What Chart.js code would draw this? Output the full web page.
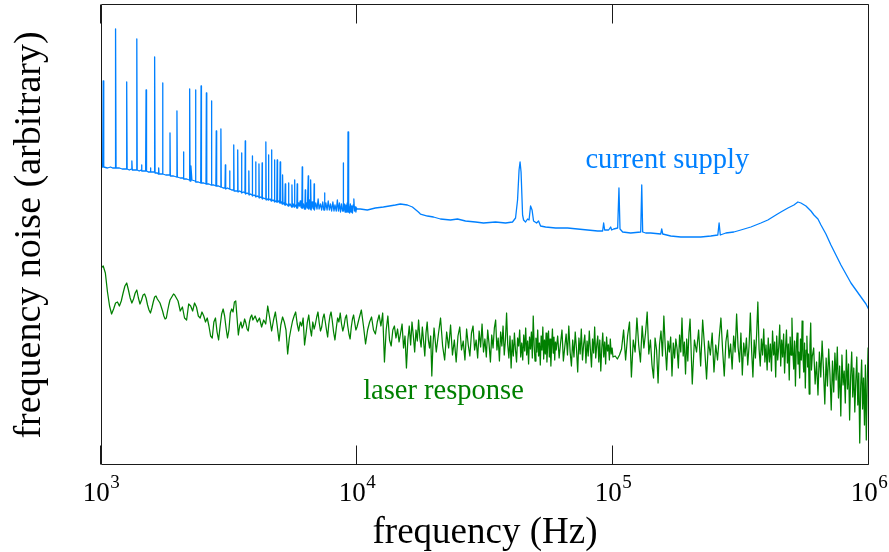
<!DOCTYPE html>
<html>
<head>
<meta charset="utf-8">
<script src="https://cdn.jsdelivr.net/npm/chart.js@4.4.1/dist/chart.umd.min.js"></script>
<style>
html,body{margin:0;padding:0;background:#ffffff;}
#wrap{width:889px;height:552px;position:relative;}
</style>
</head>
<body>
<div id="wrap"><canvas id="c"></canvas></div>
<script>
// ---------- data ----------
const tickValues = [1e3, 1e4, 1e5, 1e6];
const xTitle = 'frequency (Hz)';
const yTitle = 'frequency noise (arbitrary)';
const supplyName = 'current supply';
const laserName = 'laser response';
const supplyLabelAt = [78000, 292];
const laserLabelAt = [10570, 61.5];

// current supply: [frequency Hz, level]
const supplyPoints = [
[1000,293],[1015,293],[1020,379],[1025,293],[1060,292],[1090,293],[1110,292],[1135,292],[1140,431],[1145,292],
[1180,292],[1210,291],[1255,291],[1260,378],[1265,291],[1290,290],[1315,291],[1320,299],[1325,290],[1350,290],
[1375,290],[1380,421],[1385,290],[1410,289],[1435,290],[1440,295],[1445,289],[1470,289],[1494,289],[1500,370],
[1506,289],[1530,288],[1554,288],[1560,292],[1566,288],[1590,288],[1614,288],[1620,403],[1626,287],[1660,287],
[1675,286],[1680,292],[1685,286],[1734,286],[1740,377],[1746,286],[1790,285],[1854,285],[1860,327],[1866,284],
[1920,284],[1973,283],[1980,349],[1987,283],[2040,282],[2093,282],[2100,308],[2107,281],[2160,281],[2212,280],
[2220,371],[2228,279],[2245,294],[2265,280],[2332,279],[2340,370],[2348,278],[2400,278],[2452,277],[2460,374],
[2468,277],[2520,277],[2571,276],[2580,367],[2589,276],[2640,276],[2690,275],[2700,359],[2710,275],[2760,275],
[2810,274],[2820,329],[2830,274],[2880,274],[2930,273],[2940,331],[2950,273],[3000,272],[3050,272],[3060,295],
[3070,271],[3120,272],[3170,271],[3180,289],[3190,271],[3240,270],[3290,270],[3300,315],[3310,269],[3360,269],
[3410,269],[3420,310],[3430,268],[3480,269],[3530,268],[3540,307],[3550,267],[3600,268],[3650,267],[3660,319],
[3670,266],[3720,267],[3770,266],[3780,289],[3790,265],[3840,266],[3890,265],[3900,304],[3910,264],[3960,265],
[4010,264],[4020,298],[4030,263],[4080,264],[4130,263],[4140,296],[4150,262],[4200,263],[4250,262],[4260,297],
[4270,261],[4320,262],[4390,261],[4405,318],[4420,260],[4470,261],[4495,260],[4510,305],[4525,260],[4580,261],
[4620,259],[4635,310],[4650,259],[4700,260],[4745,259],[4760,300],[4775,258],[4820,259],[4860,258],[4878,300],
[4895,258],[4950,259],[4990,257],[5010,298],[5030,257],[5070,258],[5100,256],[5120,285],[5140,256],[5190,257],
[5225,255],[5245,276],[5265,255],[5320,256],[5380,254],[5400,277],[5420,254],[5480,256],[5550,253],[5570,275],
[5590,253],[5640,256],[5680,253],[5700,280],[5720,253],[5780,255],[5820,252],[5840,276],[5860,252],[5920,257],
[5960,254],[6000,259],[6040,253],[6090,252],[6110,293],[6130,252],[6180,256],[6230,251],[6260,252],[6280,270],
[6300,251],[6350,257],[6400,252],[6430,252],[6450,284],[6470,251],[6520,260],[6560,251],[6590,280],[6620,250],
[6680,258],[6730,252],[6780,251],[6800,276],[6820,250],[6900,257],[6980,251],[7050,261],[7110,251],[7200,256],
[7280,250],[7350,258],[7420,250],[7450,250],[7470,267],[7490,250],[7560,257],[7640,250],[7720,259],[7800,250],
[7880,256],[7960,249],[8050,258],[8130,249],[8200,255],[8300,249],[8380,260],[8460,249],[8540,257],[8620,248],
[8700,256],[8780,249],[8820,249],[8840,297],[8860,249],[8920,256],[8980,248],[9040,255],[9100,248],[9160,257],
[9200,248],[9225,328],[9250,248],[9300,255],[9360,247],[9420,256],[9480,248],[9540,254],[9600,247],[9660,255],
[9720,261],[9780,249],[9840,253],[9900,248],[9960,252],[10000,251],
[10300,251],[10970,250],[11790,252],[12680,253],[14120,255],[14770,256],[15730,255],[16460,253],[17370,248],[17690,246],
[18840,244],[19890,243],[21180,241],[23180,240],[24690,241],[26530,239],[29030,238],[31200,237],[34760,238],[38040,237],
[40510,238],[41620,242],[42380,260],[42960,290],[43350,298],[43740,288],[44340,245],[44740,240],[45550,238],[46380,241],
[47000,240],[47640,254],[48290,250],[48940,239],[50280,237],[51190,239],[52120,234],[54520,233],[59670,232],[66480,232],
[72730,231],[79580,230],[87100,229],[91100,229],[91930,237],[92760,230],[96170,230],[97920,233],[98800,230],[100600,231],
[104300,232],[105500,272],[106500,231],[109100,228],[117200,227],[128300,228],[129500,275],[130600,228],[134200,227],[140400,227],
[153600,226],[155000,231],[156400,226],[168100,224],[183900,223],[201200,223],[220200,223],[241000,224],[256700,225],[259700,237],
[262500,225],[275900,227],[296500,228],[315700,230],[345500,233],[378100,237],[402600,240],[432800,245],[452700,248],[482200,252],
[508900,255],[527600,258],[542100,257],[567100,254],[593200,249],[609500,245],[631800,241],[649200,235],[678800,226],[710100,215],
[742800,205],[776900,195],[812800,186],[850200,177],[889400,170],[930400,163],[973200,156],[1000000,150]
];

// laser response: frequencies (Hz) and levels, segment by segment
const laserFreqHz = [
1000,1020,1040,1060,1080,1100,1120,1140,1160,1180,1200,1220,1240,1260,1280,1300,1320,1340,1360,1380,1400,1420,1440,1460,1480,1500,1520,1540,1560,1580,1600,1620,1640,1660,1680,1700,1720,1740,1760,1780,1800,1820,1840,1860,1880,1900,1920,1940,1960,1980,2000,
2040,2080,2120,2160,2200,2240,2280,2320,2360,2400,2440,2480,2520,2560,2600,2640,2680,2720,2760,2800,2840,2880,2920,2960,3000,3040,3080,3120,3160,3200,3240,3280,3320,3360,3400,3440,3480,3520,3560,3600,3640,3680,3720,3760,3800,3840,3880,3920,3960,4000,
4080,4160,4240,4320,4400,4480,4560,4640,4720,4800,4880,4960,5040,5120,5200,5280,5360,5440,5520,5600,5680,5760,5840,5920,6000,6080,6160,6240,6320,6400,6480,6560,6640,6720,6800,6880,6960,7040,7120,7200,7280,7360,7440,7520,7600,7680,7760,7840,7920,8000,
8100,8200,8300,8400,8500,8600,8700,8800,8900,9000,9100,9200,9300,9400,9500,9600,9700,9800,9900,10000,
10200,10400,10600,10800,11000,11200,11400,11600,11800,12000,12200,12400,12600,12800,13000,13200,13400,13600,13800,14000,14200,14400,14600,14800,15000,15200,15400,15600,15800,16000,16200,16400,16600,16800,17000,17200,17400,17600,17800,18000,18200,18400,18600,18800,19000,19200,19400,19600,19800,20000,
20400,20800,21200,21600,22000,22400,22800,23200,23600,24000,24400,24800,25200,25600,26000,26400,26800,27200,27600,28000,28400,28800,29200,29600,30000,30400,30800,31200,31600,32000,32400,32800,33200,33600,34000,34400,34800,35200,35600,36000,36400,36800,37200,37600,38000,38400,38800,39200,39600,40000,
40400,40800,41200,41600,42000,42400,42800,43200,43600,44000,44400,44800,45200,45600,46000,46400,46800,47200,47600,48000,48400,48800,49200,49600,50000,50400,50800,51200,51600,52000,52400,52800,53200,53600,54000,54400,54800,55200,55600,56000,56400,56800,57200,57600,58000,58400,58800,59200,59600,60000,
60800,61600,62400,63200,64000,64800,65600,66400,67200,68000,68800,69600,70400,71200,72000,72800,73600,74400,75200,76000,76800,77600,78400,79200,80000,80800,81600,82400,83200,84000,84800,85600,86400,87200,88000,88800,89600,90400,91200,92000,92800,93600,94400,95200,96000,96800,97600,98400,99200,100000,
102000,104000,106000,108000,110000,112000,114000,116000,118000,120000,122000,124000,126000,128000,130000,132000,134000,136000,138000,140000,142000,144000,146000,148000,150000,152000,154000,156000,158000,160000,162000,164000,166000,168000,170000,172000,174000,176000,178000,180000,182000,184000,186000,188000,190000,192000,194000,196000,198000,200000,
204000,208000,212000,216000,220000,224000,228000,232000,236000,240000,244000,248000,252000,256000,260000,264000,268000,272000,276000,280000,284000,288000,292000,296000,300000,304000,308000,312000,316000,320000,324000,328000,332000,336000,340000,344000,348000,352000,356000,360000,364000,368000,372000,376000,380000,384000,388000,392000,396000,400000,
404000,408000,412000,416000,420000,424000,428000,432000,436000,440000,444000,448000,452000,456000,460000,464000,468000,472000,476000,480000,484000,488000,492000,496000,500000,504000,508000,512000,516000,520000,524000,528000,532000,536000,540000,544000,548000,552000,556000,560000,564000,568000,572000,576000,580000,584000,588000,592000,596000,600000,
608000,616000,624000,632000,640000,648000,656000,664000,672000,680000,688000,696000,704000,712000,720000,728000,736000,744000,752000,760000,768000,776000,784000,792000,800000,808000,816000,824000,832000,840000,848000,856000,864000,872000,880000,888000,896000,904000,912000,920000,928000,936000,944000,952000,960000,968000,976000,984000,992000,1000000
];
const laserLevel = [
192,194,187,168,154,146,151,157,158,154,159,167,174,177,170,162,157,161,167,170,162,156,160,165,166,162,155,150,147,152,158,163,164,161,159,157,153,149,144,141,142,149,155,160,162,164,166,165,163,161,159,
149,153,142,140,156,154,149,157,153,144,142,148,144,138,142,134,124,122,138,142,128,120,134,146,151,144,132,122,130,147,151,148,158,159,142,125,134,138,132,135,141,137,131,129,138,143,145,140,142,144,
138,142,133,140,136,154,142,129,140,148,134,119,135,143,138,130,106,122,131,139,144,148,136,129,138,134,142,115,126,138,145,132,124,138,131,136,143,148,137,129,133,142,146,138,130,123,136,144,148,140,
128,120,132,142,138,147,136,129,134,142,145,134,126,121,133,141,145,137,130,133,
142,150,134,116,130,138,143,130,126,138,145,134,147,98,130,144,120,114,130,134,122,131,118,127,136,112,124,92,120,134,115,138,124,108,130,119,140,122,113,133,119,104,127,138,120,112,124,84,115,132,
108,126,142,114,100,128,112,135,105,120,98,124,133,110,119,100,131,115,104,127,134,110,120,102,129,113,136,108,121,103,130,116,98,125,112,132,140,110,122,99,128,114,134,105,120,147,115,102,124,92,
120,104,127,110,98,122,114,130,103,117,100,125,109,132,105,119,96,123,111,128,102,144,115,99,122,108,130,104,117,95,124,110,133,101,120,106,127,98,116,129,103,121,94,115,131,107,123,100,118,110,
124,102,117,130,99,113,126,105,134,108,94,120,103,128,111,88,122,106,131,100,116,125,97,119,104,129,110,93,121,107,133,102,115,124,98,120,89,112,127,103,118,96,123,109,115,100,121,106,112,103,
104,101,105,111,130,100,124,138,83,120,108,142,115,98,134,112,127,148,106,120,95,82,122,110,77,116,129,104,144,113,90,119,108,123,84,117,102,121,111,92,125,108,142,104,118,86,121,99,127,141,
76,120,108,130,94,140,112,81,119,105,127,88,115,100,123,142,110,84,118,130,102,116,91,124,108,146,113,98,127,85,117,104,122,95,114,147,109,83,120,102,126,158,111,94,121,105,131,98,115,90,
122,98,116,89,129,105,118,83,124,100,113,135,94,120,103,126,87,112,130,97,116,80,123,105,142,109,91,119,74,114,127,96,108,82,121,100,139,104,88,117,72,110,124,93,106,66,115,137,90,103,
112,76,98,65,108,83,119,90,56,102,74,111,85,50,99,68,107,80,113,62,94,44,105,75,89,57,110,71,96,40,84,108,63,92,48,79,103,55,87,17,74,100,51,82,35,95,20,77,112,64
];

// ---------- chart ----------
const BLUE = '#0080ff';
const GREEN = '#008000';
const SERIF = '"Liberation Serif", "Times New Roman", serif';

const supplyData = supplyPoints.map(p => ({x: p[0], y: p[1]}));
const nLaser = Math.min(laserFreqHz.length, laserLevel.length);
const laserData = [];
for (let i = 0; i < nLaser; i++) laserData.push({x: laserFreqHz[i], y: laserLevel[i]});

const decor = {
  id: 'decor',
  afterDatasetsDraw(chart) {
    const {ctx, chartArea: a, scales} = chart;
    const xs = scales.x, ys = scales.y;
    ctx.save();
    // frame
    ctx.strokeStyle = '#1a1a1a';
    ctx.lineWidth = 1;
    const L = Math.round(a.left) + 0.5, T = Math.round(a.top) - 0.5;
    const R = Math.round(a.right) - 0.5, B = Math.round(a.bottom) - 0.5;
    ctx.beginPath();
    ctx.rect(L, T, R - L, B - T);
    ctx.stroke();
    // ticks + labels
    ctx.fillStyle = '#000';
    tickValues.forEach(v => {
      const px = Math.round(xs.getPixelForValue(v)) - 0.5;
      ctx.beginPath();
      ctx.moveTo(px, B); ctx.lineTo(px, B - 19);
      ctx.moveTo(px, T); ctx.lineTo(px, T + 19);
      ctx.stroke();
      const exp = String(Math.round(Math.log10(v)));
      ctx.font = '27px ' + SERIF;
      const wBase = ctx.measureText('10').width;
      ctx.font = '19px ' + SERIF;
      const wExp = ctx.measureText(exp).width;
      const start = xs.getPixelForValue(v) - (wBase + wExp) / 2;
      ctx.textAlign = 'left';
      ctx.textBaseline = 'alphabetic';
      ctx.font = '27px ' + SERIF;
      ctx.fillText('10', start, 501);
      ctx.font = '19px ' + SERIF;
      ctx.fillText(exp, start + wBase + 0.5, 488);
    });
    // axis titles
    ctx.font = '37px ' + SERIF;
    ctx.textAlign = 'center';
    ctx.fillText(xTitle, (a.left + a.right) / 2, 543);
    ctx.save();
    ctx.font = '38px ' + SERIF;
    ctx.translate(40, (a.top + a.bottom) / 2);
    ctx.rotate(-Math.PI / 2);
    ctx.fillText(yTitle, 0, 0);
    ctx.restore();
    // series labels
    ctx.font = '28.5px ' + SERIF;
    ctx.textAlign = 'left';
    ctx.fillStyle = BLUE;
    ctx.fillText(supplyName, xs.getPixelForValue(supplyLabelAt[0]), ys.getPixelForValue(supplyLabelAt[1]));
    ctx.fillStyle = GREEN;
    ctx.fillText(laserName, xs.getPixelForValue(laserLabelAt[0]), ys.getPixelForValue(laserLabelAt[1]));
    ctx.restore();
  }
};

new Chart(document.getElementById('c'), {
  type: 'line',
  data: {
    datasets: [
      {label: supplyName, data: supplyData, borderColor: BLUE, borderWidth: 1.3,
       pointRadius: 0, tension: 0, fill: false, borderJoinStyle: 'round'},
      {label: laserName, data: laserData, borderColor: GREEN, borderWidth: 1.25,
       pointRadius: 0, tension: 0, fill: false, borderJoinStyle: 'round'}
    ]
  },
  options: {
    responsive: true,
    maintainAspectRatio: false,
    animation: false,
    events: [],
    layout: {padding: {left: 101, right: 20, top: 5, bottom: 87}},
    plugins: {legend: {display: false}, tooltip: {enabled: false}},
    scales: {
      x: {type: 'logarithmic', min: 1000, max: 1000000, display: false},
      y: {type: 'linear', min: -5, max: 455, display: false}
    }
  },
  plugins: [decor]
});
</script>
</body>
</html>
